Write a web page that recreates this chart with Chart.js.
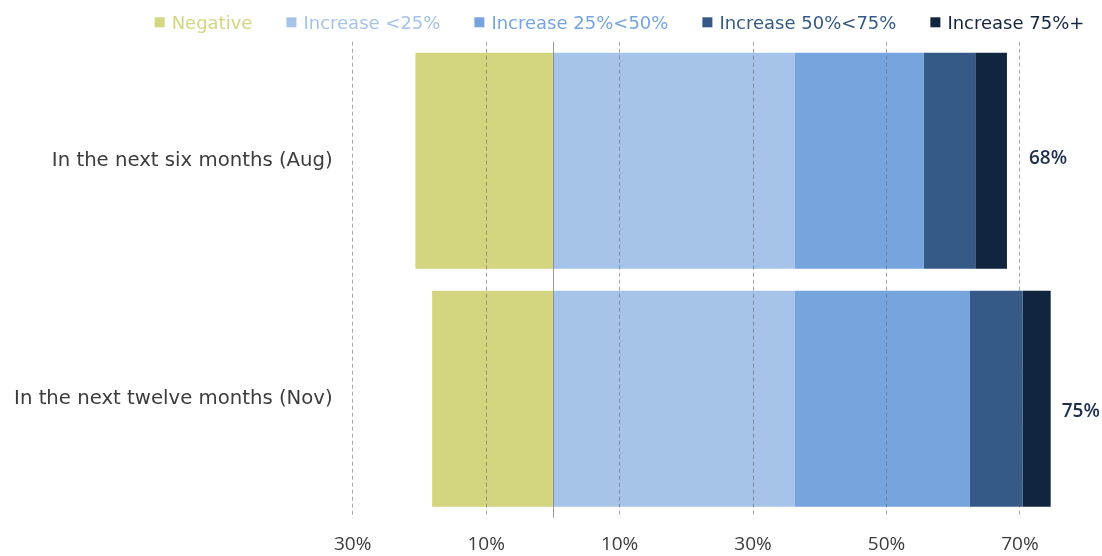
<!DOCTYPE html>
<html>
<head>
<meta charset="utf-8">
<title>Expected change</title>
<script src="https://cdn.jsdelivr.net/npm/chart.js@4.4.1/dist/chart.umd.min.js"></script>
<style>
  html, body { margin: 0; padding: 0; background: #ffffff; }
  canvas { display: block; }
</style>
</head>
<body>
<canvas id="chart" width="1102" height="556"></canvas>
<script>
// Row categories (top to bottom)
const categories = ["In the next six months (Aug)", "In the next twelve months (Nov)"];

// Series names, in stacking order
const seriesNames = ["Negative", "Increase <25%", "Increase 25%<50%", "Increase 50%<75%", "Increase 75%+"];

// Shares of respondents, in percent (negative share drawn to the left of zero)
const negative        = [-20.6, -18.1];
const increaseUnder25 = [36.2, 36.2];
const increase25to50  = [19.4, 26.3];
const increase50to75  = [7.7, 7.9];
const increase75plus  = [4.75, 4.2];

// Axis ticks shown on the value axis
const xTickValues = [-30, -10, 10, 30, 50, 70];

const seriesColors = ["#d3d57f", "#a6c3e9", "#76a5dd", "#355a88", "#12253f"];
const seriesValues = [negative, increaseUnder25, increase25to50, increase50to75, increase75plus];

const datasets = seriesNames.map((name, i) => ({
  label: name,
  data: seriesValues[i],
  backgroundColor: seriesColors[i],
  borderWidth: 0,
  barPercentage: 0.9076,
  categoryPercentage: 1.0
}));

// Solid reference line at zero, drawn over the bars
const zeroLinePlugin = {
  id: 'zeroLine',
  afterDatasetsDraw(chart) {
    const { ctx, chartArea, scales } = chart;
    const x = Math.round(scales.x.getPixelForValue(0)) + 0.5;
    ctx.save();
    ctx.strokeStyle = 'rgba(130,130,130,0.8)';
    ctx.lineWidth = 1;
    ctx.beginPath();
    ctx.moveTo(x, chartArea.top);
    ctx.lineTo(x, chartArea.bottom);
    ctx.stroke();
    ctx.restore();
  }
};

// Total of the "increase" segments printed after each bar
const totalLabelsPlugin = {
  id: 'totalLabels',
  afterDraw(chart, args, opts) {
    const { ctx, scales } = chart;
    ctx.save();
    ctx.font = opts.font;
    ctx.fillStyle = opts.color;
    ctx.textAlign = 'left';
    ctx.textBaseline = 'alphabetic';
    categories.forEach((cat, row) => {
      let total = 0;
      for (let s = 1; s < seriesValues.length; s++) total += seriesValues[s][row];
      const x = scales.x.getPixelForValue(total) + opts.dx[row];
      const y = scales.y.getPixelForValue(row) + opts.dy[row];
      ctx.fillText(Math.round(total) + '%', x, y);
    });
    ctx.restore();
  }
};

// Single-row legend with coloured markers and coloured text
const topLegendPlugin = {
  id: 'topLegend',
  afterDraw(chart, args, opts) {
    const { ctx } = chart;
    ctx.save();
    ctx.font = opts.font;
    ctx.textAlign = 'left';
    ctx.textBaseline = 'alphabetic';
    const items = chart.data.datasets.map(ds => ({
      text: ds.label,
      color: ds.backgroundColor,
      w: ctx.measureText(ds.label).width
    }));
    const itemW = it => opts.box + opts.boxGap + it.w;
    const total = items.reduce((a, it) => a + itemW(it), 0) + opts.itemGap * (items.length - 1);
    let x = opts.centerX - total / 2;
    items.forEach(it => {
      ctx.fillStyle = it.color;
      ctx.fillRect(x, opts.boxTop, opts.box, opts.box);
      ctx.fillText(it.text, x + opts.box + opts.boxGap, opts.baseline);
      x += itemW(it) + opts.itemGap;
    });
    ctx.restore();
  }
};

new Chart(document.getElementById('chart'), {
  type: 'bar',
  data: { labels: categories, datasets },
  options: {
    indexAxis: 'y',
    responsive: false,
    animation: false,
    devicePixelRatio: 1,
    layout: { padding: { top: 41.7, right: 15.3, bottom: 0, left: 0 } },
    plugins: {
      legend: { display: false },
      tooltip: { enabled: false },
      title: { display: false },
      totalLabels: {
        font: '600 19px "Open Sans"',
        color: '#1f2f4d',
        dx: [22, 11],
        dy: [3.3, 18]
      },
      topLegend: {
        font: '18px "DejaVu Sans"',
        centerX: 619.5,
        box: 10,
        boxGap: 7,
        itemGap: 34,
        boxTop: 17.3,
        baseline: 29.3
      }
    },
    scales: {
      x: {
        type: 'linear',
        stacked: true,
        min: -30,
        max: 80,
        afterBuildTicks: (scale) => {
          scale.ticks = xTickValues.map(v => ({ value: v }));
        },
        grid: {
          color: 'rgba(95,95,95,0.55)',
          lineWidth: 1,
          drawTicks: false,
          z: 1
        },
        border: { display: false, dash: [4, 3] },
        ticks: {
          padding: 15,
          color: '#3c3c3c',
          font: { family: 'Open Sans', size: 19 },
          maxRotation: 0,
          callback: (v) => Math.abs(v) + '%'
        },
        afterFit: (scale) => { scale.height = 38.3; }
      },
      y: {
        stacked: true,
        grid: { display: false, drawTicks: false },
        border: { display: false },
        ticks: {
          padding: 20,
          color: '#3c3c3c',
          font: { family: 'DejaVu Sans', size: 19.7 }
        },
        afterFit: (scale) => { scale.width = 352.7; }
      }
    }
  },
  plugins: [zeroLinePlugin, totalLabelsPlugin, topLegendPlugin]
});
</script>
</body>
</html>
